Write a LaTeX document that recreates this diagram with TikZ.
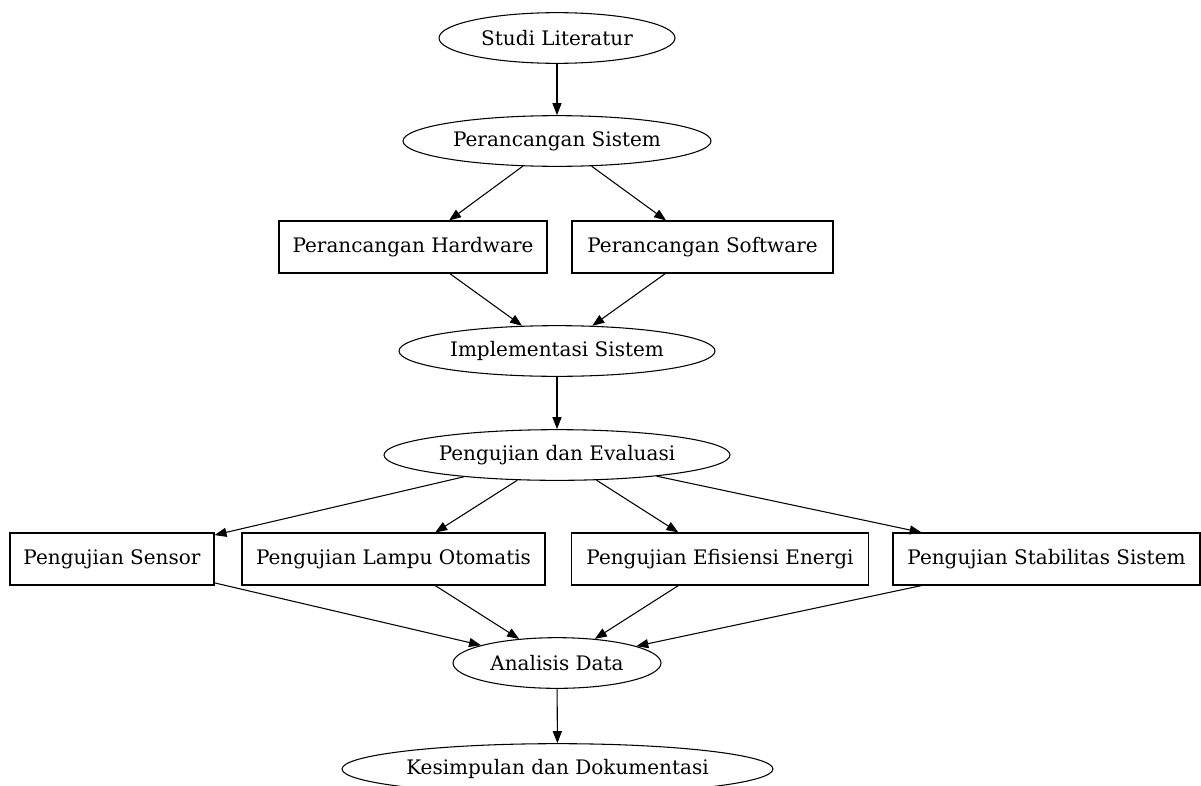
\documentclass[tikz,border=0pt]{standalone}
\usepackage{fontspec}
\setmainfont{DejaVu Serif}
\usepackage{tikz}
\usetikzlibrary{shapes.geometric,arrows.meta}

\begin{document}
\begin{tikzpicture}[x=0.75pt,y=-0.75pt]
  \tikzstyle{stage}=[ellipse,draw,line width=0.8pt,inner sep=0pt,minimum height=38pt,font=\fontsize{15}{18}\selectfont]
  \tikzstyle{task}=[rectangle,draw,line width=0.8pt,inner sep=0pt,minimum height=39pt,font=\fontsize{15}{18}\selectfont]
  \tikzstyle{directed}=[-{Triangle[length=9pt,width=6.8pt]},line width=0.8pt]
  \clip (0,0) rectangle (1201,785);
  \node[stage,minimum width=177pt] (lit) at (557,38) {Studi Literatur};
  \node[stage,minimum width=231pt] (sys) at (557,141) {Perancangan Sistem};
  \node[task,minimum width=201pt] (hw) at (413,247) {Perancangan Hardware};
  \node[task,minimum width=195.75pt] (sw) at (702.5,247) {Perancangan Software};
  \node[stage,minimum width=237pt] (impl) at (557,351) {Implementasi Sistem};
  \node[stage,minimum width=259.5pt] (eval) at (557,455) {Pengujian dan Evaluasi};
  \node[task,minimum width=153pt] (sensor) at (112,559) {Pengujian Sensor};
  \node[task,minimum width=227.25pt] (lampu) at (393.5,559) {Pengujian Lampu Otomatis};
  \node[task,minimum width=222.75pt] (efis) at (720,559) {Pengujian Efisiensi Energi};
  \node[task,minimum width=230.25pt] (stab) at (1046.5,559) {Pengujian Stabilitas Sistem};
  \node[stage,minimum width=156pt] (anal) at (557,663) {Analisis Data};
  \node[stage,minimum width=323.25pt] (kes) at (557.5,769) {Kesimpulan dan Dokumentasi};
  \foreach \a/\b in {lit/sys,sys/hw,sys/sw,hw/impl,sw/impl,impl/eval,
                     eval/sensor,eval/lampu,eval/efis,eval/stab,
                     sensor/anal,lampu/anal,efis/anal,stab/anal,anal/kes} {
    \draw[directed] (\a) -- (\b);
  }
\end{tikzpicture}
\end{document}
